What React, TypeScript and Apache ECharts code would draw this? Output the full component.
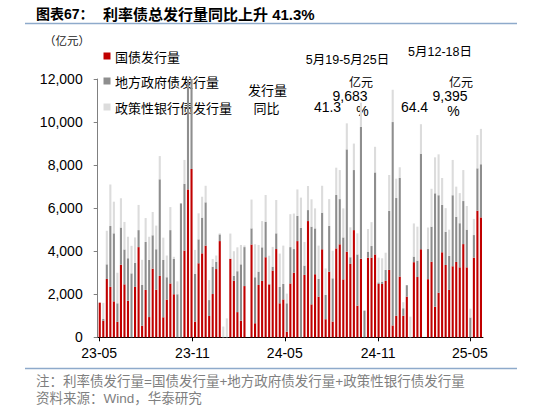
import { useEffect, useRef } from 'react';
import * as echarts from 'echarts';

// week-ending dates (Sundays), first week ends 2023-04-30, 109 weeks
const FIRST_WEEK_END = { y: 2023, m: 4, d: 30 };
const WEEK_COUNT = 109;

const seriesNames = ['国债发行量', '地方政府债发行量', '政策性银行债发行量'];

// 亿元
const govBond = [
  1610, 770, 2710, 2340, 1670, 720, 3370, 2460, 1700, 0,
  2340, 4190, 540, 2200, 940, 3190, 2210, 2850, 930, 1750,
  2500, 2000, 0, 0, 4030, 6870, 7820, 730, 3440, 3900,
  4260, 990, 2010, 3170, 4470, 0, 0, 3650, 2630, 1170,
  770, 2380, 0, 4310, 650, 2430, 2620, 3720, 2460, 3100,
  4100, 1580, 1760, 260, 2500, 3000, 4470, 0, 2900, 5400,
  1530, 2930, 1890, 4090, 840, 3050, 730, 4130, 4320, 2690,
  3980, 3410, 4980, 1470, 3650, 0, 3700, 3700, 3850, 2480,
  2480, 2620, 3130, 550, 1000, 2820, 1000, 1890, 0, 3490,
  2800, 4090, 0, 2700, 3510, 1420, 2070, 3950, 3360, 2200,
  3300, 3500, 3250, 4330, 3250, 0, 3700, 5880, 5570,
];

const localBond = [
  0, 80, 680, 2830, 3160, 860, 1730, 1620, 1970, 2970,
  1120, 790, 1890, 2230, 2660, 1550, 1880, 4490, 2670, 1040,
  2480, 1640, 2000, 6220, 3100, 5830, 4880, 2210, 1110, 1660,
  2010, 740, 1270, 340, 310, 0, 0, 0, 230, 1900,
  2620, 1810, 0, 750, 2140, 620, 1560, 1650, 0, 180,
  730, 760, 720, 1320, 1690, 1100, 1170, 5090, 430, 510,
  3610, 2130, 820, 1700, 1130, 2120, 2010, 2480, 2100, 1950,
  4750, 310, 2790, 2380, 6130, 1240, 280, 540, 3810, 70,
  100, 510, 2740, 9450, 5470, 4580, 350, 530, 0, 260,
  760, 4440, 0, 1400, 1630, 5270, 4530, 2200, 1540, 1580,
  3300, 2100, 2050, 2000, 1750, 920, 1050, 1970, 2470,
];

const policyBond = [
  0, 750, 1560, 1930, 1470, 1420, 1360, 1280, 1000, 1280,
  1180, 1170, 1170, 1110, 1070, 1080, 1100, 1080, 1030, 1010,
  1070, 100, 600, 0, 1110, 600, 600, 1120, 1210, 970,
  770, 930, 360, 290, 50, 500, 880, 1170, 1140, 1110,
  900, 80, 0, 1340, 1530, 1240, 1220, 1240, 1330, 920,
  1550, 1550, 1780, 450, 1530, 1650, 1230, 1400, 1100, 1120,
  1270, 930, 1550, 1250, 1230, 1250, 1280, 1270, 1350, 1350,
  1210, 1390, 1230, 980, 1120, 0, 1050, 1110, 1190, 1150,
  1090, 800, 1670, 1500, 900, 500, 280, 0, 960, 1540,
  1580, 1370, 0, 1000, 1760, 1670, 1900, 1250, 1100, 1220,
  1640, 1400, 1400, 1440, 1100, 410, 750, 1545, 1643,
];

const tickDates = ['2023-05-01', '2023-11-01', '2024-05-01', '2024-11-01', '2025-05-01'];
const axisStart = '2023-04-28';
const axisEnd = '2025-05-27';
const yMax = 12000;
const yStep = 2000;

const colors = ['#c00000', '#8e8e8e', '#dcdcdc'];

const SANS = '"Liberation Sans", Arial, "Noto Sans CJK SC", sans-serif';
const CJK = '"Noto Sans CJK SC", sans-serif';

function toTs(s: string) {
  const [y, m, d] = s.split('-').map(Number);
  return new Date(y, m - 1, d).getTime();
}

const weeks: number[] = [];
for (let i = 0; i < WEEK_COUNT; i++) {
  weeks.push(new Date(FIRST_WEEK_END.y, FIRST_WEEK_END.m - 1, FIRST_WEEK_END.d + 7 * i).getTime());
}

export default function App() {
  const ref = useRef<HTMLDivElement>(null);
  useEffect(() => {
    if (!ref.current) return;
    const chart = echarts.init(ref.current, undefined, { renderer: 'svg' });
    const seriesData = [govBond, localBond, policyBond];
    const ticks = tickDates.map(toTs);
    const txt = (text: string, x: number, y: number, size: number, extra: any = {}) => ({
      type: 'text',
      x,
      y,
      silent: true,
      style: {
        text,
        fontSize: size,
        fontFamily: SANS,
        fill: '#000',
        align: 'center',
        verticalAlign: 'middle',
        ...extra,
      },
    });
    const legendY = [56, 81, 107];
    chart.setOption({
      animation: false,
      grid: { left: 97.7, right: 51, top: 79, bottom: 74.7, containLabel: false },
      xAxis: [
        {
          // time axis that carries the stacked bars
          type: 'time',
          min: toTs(axisStart),
          max: toTs(axisEnd),
          position: 'bottom',
          axisLine: { show: true, onZero: false, lineStyle: { color: '#000', width: 1 } },
          axisTick: { show: false },
          axisLabel: { show: false },
          splitLine: { show: false },
        },
        {
          // same extent, only for the half-year ticks and labels
          type: 'value',
          min: toTs(axisStart),
          max: toTs(axisEnd),
          position: 'bottom',
          offset: 0,
          axisLine: { show: false, onZero: false },
          axisTick: { show: true, customValues: ticks, length: 4, lineStyle: { color: '#000' } },
          axisLabel: {
            customValues: ticks,
            fontSize: 14,
            fontFamily: SANS,
            color: '#000',
            margin: 9,
            formatter: (v: number) => {
              const d = new Date(v);
              return String(d.getFullYear()).slice(2) + '-' + String(d.getMonth() + 1).padStart(2, '0');
            },
          },
          splitLine: { show: false },
        },
      ],
      yAxis: {
        type: 'value',
        min: 0,
        max: yMax,
        interval: yStep,
        axisLine: { show: true, onZero: false, lineStyle: { color: '#808080', width: 1 } },
        axisTick: { show: true, length: 4, lineStyle: { color: '#808080' } },
        axisLabel: {
          fontSize: 14,
          fontFamily: SANS,
          color: '#000',
          margin: 15,
          formatter: (v: number) => v.toLocaleString('en-US'),
        },
        splitLine: { show: false },
      },
      series: seriesNames.map((name, k) => ({
        name,
        type: 'bar',
        stack: 'total',
        xAxisIndex: 0,
        barWidth: 2.1,
        clip: true,
        itemStyle: { color: colors[k] },
        data: weeks.map((t, i) => [t, seriesData[k][i]]),
      })),
      graphic: [
        // title
        txt('图表67：', 36, 14, 14, { align: 'left', fontWeight: 'bold' }),
        txt('利率债总发行量同比上升 41.3%', 103, 14, 15, { align: 'left', fontWeight: 'bold' }),
        { type: 'line', silent: true, shape: { x1: 25, y1: 23.5, x2: 517, y2: 23.5 }, style: { stroke: '#8eaacb', lineWidth: 1.5 } },
        // unit
        txt('（亿元）', 67, 39.5, 11.5, { fontFamily: CJK, fill: '#222' }),
        // legend
        ...seriesNames.flatMap((name, k) => [
          { type: 'rect', silent: true, shape: { x: 103.5, y: legendY[k] - 3.5, width: 7, height: 7 }, style: { fill: colors[k] } },
          txt(name, 115, legendY[k], 13, { align: 'left', fontFamily: CJK }),
        ]),
        // annotations
        txt('发行量', 267.5, 89, 13, { fontFamily: CJK }),
        txt('同比', 266.5, 107, 13, { fontFamily: CJK }),
        txt('5月19-5月25日', 347.5, 60, 12.5),
        txt('亿元', 361, 81, 12, { fontFamily: CJK }),
        txt('9,683', 350, 96, 14),
        txt('41.3', 327.5, 107, 14),
        txt('%', 362.5, 111, 14),
        txt('5月12-18日', 440, 52, 12.5),
        txt('亿元', 461, 81, 12, { fontFamily: CJK }),
        txt('9,395', 450, 96, 14),
        txt('64.4', 414.5, 107, 14),
        txt('%', 453.5, 111, 14),
        // footer
        { type: 'line', silent: true, shape: { x1: 25, y1: 368.5, x2: 517, y2: 368.5 }, style: { stroke: '#8eaacb', lineWidth: 1.5 } },
        txt('注：利率债发行量=国债发行量+地方政府债发行量+政策性银行债发行量', 36, 381.5, 13.5, { align: 'left', fill: '#7f7f7f' }),
        txt('资料来源：Wind，华泰研究', 36, 398, 13.5, { align: 'left', fill: '#7f7f7f' }),
      ],
    });
    return () => chart.dispose();
  }, []);
  return <div ref={ref} style={{ position: 'absolute', left: 0, top: 0, width: 534, height: 412 }} />;
}
